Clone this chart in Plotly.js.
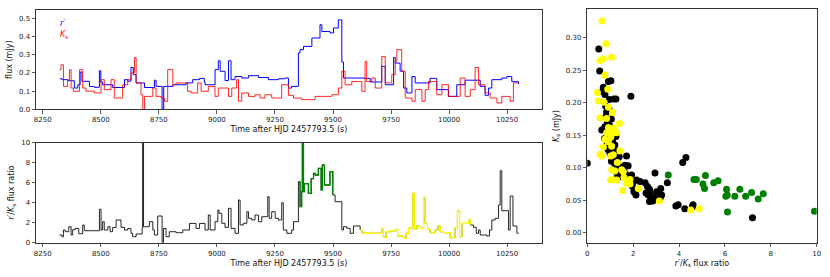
<!DOCTYPE html>
<html>
<head>
<meta charset="utf-8">
<script src="https://cdn.plot.ly/plotly-3.0.1.min.js"></script>
<style>html,body{margin:0;padding:0;background:#fff}#chart{width:830px;height:277px}</style>
</head>
<body>
<div id="chart"></div>
<script>
// ---- Light curves (time after HJD 2457793.5, s) ----
const tR_band = [8324,8333,8357,8386,8401,8411,8419,8451,8472,8494,8500,8508,8551,8602,8616,8630,8640,8652,8688,8731,8738,8764,8771,8810,8867,8896,8925,8946,
  8949,8992,9006,9014,9035,9050,9061,9078,9107,9136,9179,9222,9265,9294,9308,9322,9351,9358,9373,9409,9444,9452,9487,9502,9523,9538,9545,9638,
  9660,9710,9725,9761,9768,9789,9804,9818,9840,9854,9918,9947,9997,10033,10069,10134,10155,10170,10184,10227,10249,10270,10299];
const fluxR = [0.168,0.163,0.157,0.117,0.135,0.205,0.154,0.126,0.121,0.212,0.150,0.135,0.120,0.163,0.155,0.230,0.190,0.145,0.120,0.160,0.126,0.000,0.126,0.135,0.145,0.163,0.170,0.150,
  0.135,0.218,0.267,0.209,0.158,0.267,0.163,0.180,0.172,0.185,0.175,0.163,0.168,0.172,0.117,0.126,0.310,0.328,0.346,0.392,0.465,0.428,0.420,0.447,0.492,0.260,0.172,0.170,
  0.150,0.236,0.135,0.285,0.254,0.210,0.117,0.090,0.180,0.145,0.170,0.108,0.071,0.135,0.160,0.126,0.077,0.117,0.163,0.172,0.180,0.152,0.139];

const tK_band = [8322,8329,8339,8357,8365,8372,8382,8408,8422,8436,8472,8501,8515,8544,8558,8594,8616,8630,8645,8652,8673,8681,8688,8724,8738,8760,8774,8788,8810,8824,8874,8889,8917,8932,
  8963,8992,9006,9050,9064,9085,9093,9107,9136,9164,9186,9207,9236,9279,9308,9330,9365,9423,9495,9523,9538,9552,9581,9624,9638,9645,9667,
  9682,9710,9725,9753,9768,9775,9796,9811,9840,9854,9883,9897,9911,9947,9969,9997,10048,10069,10091,10112,10127,10155,10177,10206,10227,10263,10277,10299];
const fluxK = [0.218,0.245,0.126,0.163,0.218,0.117,0.099,0.218,0.117,0.100,0.090,0.163,0.108,0.163,0.062,0.135,0.163,0.200,0.285,0.145,0.080,0.000,0.071,0.117,0.071,0.062,0.044,0.218,0.135,0.145,0.099,0.090,0.145,0.099,
  0.126,0.071,0.117,0.071,0.117,0.163,0.044,0.090,0.071,0.080,0.062,0.080,0.062,0.135,0.077,0.062,0.053,0.071,0.080,0.117,0.209,0.135,0.153,0.099,0.264,0.153,0.172,
  0.117,0.290,0.145,0.190,0.264,0.328,0.209,0.062,0.044,0.108,0.044,0.108,0.153,0.080,0.135,0.071,0.172,0.071,0.108,0.230,0.135,0.090,0.062,0.035,0.071,0.044,0.145,0.145];

// ---- r'/Ks flux ratio vs time ----
const tRatio = [8322,8333,8339,8347,8362,8372,8379,8390,8405,8422,8429,8494,8501,8508,8515,8530,8540,8551,8566,8587,8602,8616,8630,8637,8652,8678,8680,8684,8688,8709,8724,8731,8745,8764,8770,8781,8795,8824,8853,8882,8910,8925,
  8949,8963,8971,8992,9004,9009,9021,9035,9050,9061,9078,9093,9100,9114,9129,9136,9150,9164,9179,9193,9219,9225,9236,9251,9265,9279,9286,9301,9322,9330,9351,9358,9365,9368,9373,9377,9394,9406,9416,9423,9437,9449,9454,9463,9487,9499,9509,9538,9545,9559,9574,9588,9617,9624,9645,
  9660,9710,9717,9729,9746,9772,9778,9804,9815,9825,9844,9850,9861,9873,9890,9897,9907,9918,9940,9952,9962,9976,10005,10026,10036,10045,10055,10084,10091,10105,10117,10127,10134,10163,10174,10184,10198,10213,10220,10227,10256,10263,10275,10292,10299];
const ratio = [0.77,0.60,1.27,1.10,1.60,0.77,1.30,1.43,0.90,1.77,1.20,3.34,1.27,2.10,1.27,1.60,1.10,1.53,2.27,1.53,1.27,1.43,0.94,0.60,0.87,1.43,12,1.60,1.60,2.10,1.27,0.77,2.67,0.00,1.43,0.60,1.10,1.00,1.27,1.93,1.43,1.93,
  1.27,2.77,1.27,2.10,3.27,2.94,1.94,1.54,3.44,1.43,0.94,4.27,1.77,1.94,3.10,2.44,2.27,2.77,2.10,2.60,4.60,2.44,3.10,2.44,2.27,4.00,1.27,0.94,1.27,2.10,6.10,3.60,5.10,12,5.10,5.90,4.94,6.40,6.94,6.77,7.44,5.27,7.77,5.77,7.10,4.77,4.10,1.27,1.60,1.44,0.94,1.67,1.27,0.94,1.00,
  0.94,1.43,0.54,1.10,1.20,1.34,0.67,0.44,0.94,1.50,4.94,1.34,1.67,1.44,4.54,1.94,1.34,1.00,1.27,1.67,1.10,1.00,0.50,1.50,3.17,0.60,1.93,2.27,1.77,1.54,0.94,1.27,0.77,0.67,1.27,2.27,2.44,3.77,7.20,3.20,1.27,4.67,1.67,0.94,0.94];
const greenSpan = [9351, 9502];
const yellowSpan = [9617, 10091];

// ---- Ks vs r'/Ks scatter ----
const ratioBlack = [0.50,0.54,0.92,1.03,0.70,0.66,0.77,0.96,1.16,1.25,1.90,0.80,0.84,0.80,0.63,0.77,0.96,0.88,0.92,
  0.00,1.13,0.99,1.39,1.71,1.64,1.78,1.42,1.25,1.35,1.50,1.71,1.93,2.15,2.30,1.97,2.12,2.03,2.12,2.52,2.62,2.71,2.56,2.66,2.74,2.81,2.71,2.85,2.95,3.02,3.20,3.24,3.17,2.99,3.49,4.16,4.30,3.86,3.96,4.25,4.61,4.58,7.20,
  1.00,1.10,1.20,0.90,1.05,1.20,1.30,1.50,1.60,1.45,1.15,0.85,1.30,1.80,2.00,1.90,1.25,0.95,1.05,0.75,1.10];
const ksBlack = [0.283,0.249,0.233,0.234,0.224,0.218,0.213,0.205,0.206,0.206,0.210,0.195,0.186,0.178,0.158,0.163,0.166,0.170,0.150,
  0.107,0.130,0.122,0.117,0.118,0.104,0.103,0.101,0.094,0.089,0.086,0.089,0.089,0.081,0.079,0.071,0.066,0.063,0.058,0.077,0.071,0.067,0.061,0.058,0.061,0.055,0.048,0.049,0.092,0.063,0.068,0.058,0.053,0.053,0.077,0.108,0.116,0.041,0.043,0.037,0.043,0.040,0.023,
  0.145,0.140,0.135,0.128,0.110,0.105,0.112,0.100,0.095,0.090,0.125,0.135,0.085,0.085,0.078,0.075,0.148,0.190,0.175,0.145,0.160];
const ratioYellow = [0.64,0.815,0.55,0.70,1.06,0.77,0.44,0.89,0.48,0.73,0.55,0.84,0.92,1.10,1.40,1.14,0.92,1.28,0.84,1.10,1.02,0.77,0.92,0.70,1.06,0.55,1.02,1.13,1.42,1.31,1.06,1.50,1.57,1.86,1.71,1.86,1.28,1.02,1.10,1.54,2.22,3.14,4.51,4.88,0.63,1.20,1.60];
const ksYellow = [0.326,0.291,0.265,0.268,0.270,0.243,0.216,0.221,0.203,0.201,0.177,0.176,0.193,0.185,0.168,0.161,0.162,0.154,0.154,0.153,0.147,0.144,0.140,0.132,0.133,0.121,0.118,0.120,0.126,0.108,0.097,0.097,0.094,0.082,0.076,0.075,0.081,0.081,0.082,0.065,0.068,0.049,0.035,0.037,0.118,0.095,0.085];
const ratioGreen = [3.53,4.65,4.75,5.15,5.04,5.11,5.51,5.70,6.07,6.04,6.10,6.43,6.65,6.90,7.16,7.45,7.67,6.11,9.90];
const ksGreen = [0.089,0.082,0.082,0.088,0.075,0.068,0.077,0.080,0.067,0.056,0.058,0.056,0.067,0.056,0.062,0.052,0.060,0.032,0.033];

// ---- tick labels ----
const timeTicks = [8250, 8500, 8750, 9000, 9250, 9500, 9750, 10000, 10250];
const timeTickText = ['8250', '8500', '8750', '9000', '9250', '9500', '9750', '10000', '10250'];

function span(t, v, s) {
  const x = [], y = [];
  t.forEach((ti, i) => { if (ti >= s[0] && ti <= s[1]) { x.push(ti); y.push(v[i]); } });
  return {x, y};
}
const gSeg = span(tRatio, ratio, greenSpan);
const ySeg = span(tRatio, ratio, yellowSpan);

const traces = [
  {x: tR_band, y: fluxR, type: 'scatter', mode: 'lines', line: {color: '#0000ff', width: 1, shape: 'hv'}, xaxis: 'x', yaxis: 'y', showlegend: false},
  {x: tK_band, y: fluxK, type: 'scatter', mode: 'lines', line: {color: '#ff0000', width: 1, shape: 'hv'}, opacity: 0.85, xaxis: 'x', yaxis: 'y', showlegend: false},
  {x: tRatio, y: ratio, type: 'scatter', mode: 'lines', line: {color: '#000000', width: 1, shape: 'hv'}, opacity: 0.85, xaxis: 'x2', yaxis: 'y2', showlegend: false},
  {x: gSeg.x, y: gSeg.y, type: 'scatter', mode: 'lines', line: {color: '#008000', width: 1.3, shape: 'hv'}, xaxis: 'x2', yaxis: 'y2', showlegend: false},
  {x: ySeg.x, y: ySeg.y, type: 'scatter', mode: 'lines', line: {color: '#ffff00', width: 1.3, shape: 'hv'}, xaxis: 'x2', yaxis: 'y2', showlegend: false},
  {x: ratioBlack, y: ksBlack, type: 'scatter', mode: 'markers', marker: {color: '#000000', size: 7}, xaxis: 'x3', yaxis: 'y3', showlegend: false},
  {x: ratioYellow, y: ksYellow, type: 'scatter', mode: 'markers', marker: {color: '#ffff00', size: 7}, xaxis: 'x3', yaxis: 'y3', showlegend: false},
  {x: ratioGreen, y: ksGreen, type: 'scatter', mode: 'markers', marker: {color: '#008000', size: 7}, xaxis: 'x3', yaxis: 'y3', showlegend: false}
];

const axBase = {
  showgrid: false, zeroline: false, showline: true, mirror: true, linecolor: '#333', linewidth: 1,
  ticks: 'outside', ticklen: 3.5, tickwidth: 0.8, tickcolor: '#333',
  tickfont: {size: 7, color: '#222'}
};
const ttl = (txt, sd) => ({text: txt, font: {size: 8, color: '#111'}, standoff: sd});

const layout = {
  width: 830, height: 277,
  margin: {l: 0, r: 0, t: 0, b: 0},
  paper_bgcolor: '#fff', plot_bgcolor: '#fff',
  font: {family: 'DejaVu Sans, sans-serif', color: '#222'},
  xaxis: Object.assign({}, axBase, {domain: [0.0434, 0.6527], range: [8221, 10399], tickvals: timeTicks, ticktext: timeTickText, anchor: 'y', title: ttl('Time after HJD 2457793.5 (s)', 3)}),
  yaxis: Object.assign({}, axBase, {domain: [0.6054, 0.9639], range: [0, 0.546], tickvals: [0, 0.1, 0.2, 0.3, 0.4, 0.5], tickformat: '.1f', anchor: 'x', title: ttl('flux (mJy)', 5)}),
  xaxis2: Object.assign({}, axBase, {domain: [0.0434, 0.6527], range: [8221, 10399], tickvals: timeTicks, ticktext: timeTickText, anchor: 'y2', title: ttl('Time after HJD 2457793.5 (s)', 3)}),
  yaxis2: Object.assign({}, axBase, {domain: [0.1238, 0.4848], range: [0, 10], tickvals: [0, 2, 4, 6, 8, 10], anchor: 'x2', title: ttl('<i>r</i>′/<i>K</i><sub>s</sub> flux ratio', 5)}),
  xaxis3: Object.assign({}, axBase, {domain: [0.7076, 0.9840], range: [0, 10], tickvals: [0, 2, 4, 6, 8, 10], anchor: 'y3', title: ttl('<i>r</i>′/<i>K</i><sub>s</sub> flux ratio', 3)}),
  yaxis3: Object.assign({}, axBase, {domain: [0.1238, 0.9664], range: [-0.0154, 0.344], tickvals: [0, 0.05, 0.1, 0.15, 0.2, 0.25, 0.3], tickformat: '.2f', anchor: 'x3', title: ttl('<i>K</i><sub>s</sub> (mJy)', 5)}),
  annotations: [
    {xref: 'paper', yref: 'paper', x: 0.0700, y: 0.915, xanchor: 'left', yanchor: 'middle', showarrow: false, text: '<i>r</i>′', font: {size: 8, color: '#0000ff'}},
    {xref: 'paper', yref: 'paper', x: 0.0700, y: 0.872, xanchor: 'left', yanchor: 'middle', showarrow: false, text: '<i>K</i><sub>s</sub>', font: {size: 8, color: '#ff0000'}}
  ]
};

Plotly.newPlot('chart', traces, layout, {staticPlot: true, displayModeBar: false});
</script>
</body>
</html>
